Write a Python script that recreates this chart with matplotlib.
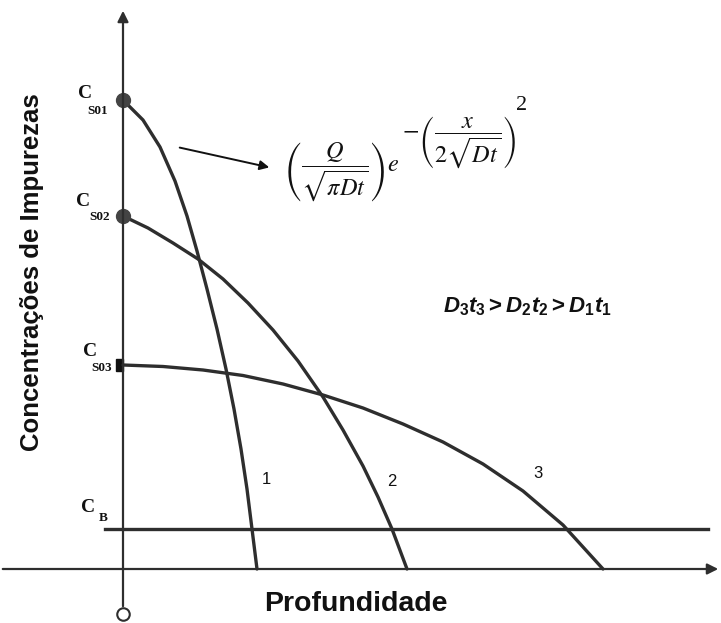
import numpy as np
import matplotlib
matplotlib.use('Agg')
import matplotlib.pyplot as plt
from matplotlib.patches import Rectangle

# perfis de concentracao (profundidade, concentracao)
prof1 = [0, 20, 37, 52, 64, 74, 84, 94, 103, 111, 118, 124, 129, 134]
conc1 = [469, 449, 422, 388, 353, 318, 280, 240, 200, 160, 120, 80, 40, 0]

prof2 = [0, 25, 50, 75, 100, 125, 150, 175, 200, 220, 240, 255, 269, 284]
conc2 = [353, 341, 326, 310, 290, 266, 239, 208, 172, 139, 103, 72, 40, 0]

prof3 = [0, 40, 80, 120, 160, 200, 240, 280, 320, 360, 400, 440, 480]
conc3 = [204, 202.5, 199, 193.5, 185, 174, 161, 145, 127, 105, 78, 44, 0]

conc_B = 40
cb_x = [-18, 585]
rotulos = ['1', '2', '3']

cor = '#2e2e2e'
plt.rcParams['mathtext.fontset'] = 'custom'
plt.rcParams['mathtext.it'] = 'Liberation Sans:italic:bold'
plt.rcParams['mathtext.rm'] = 'Liberation Sans:bold'
plt.rcParams['mathtext.bf'] = 'Liberation Sans:bold'

fig = plt.figure(figsize=(7.21, 6.23), dpi=100)
ax = fig.add_axes([0, 0, 1, 1])
ax.set_xlim(-123, 598)
ax.set_ylim(-54, 569)
ax.axis('off')

# eixos
ax.annotate('', xy=(598, 0), xytext=(-123, 0),
            arrowprops=dict(arrowstyle='-|>', lw=1.6, color=cor, mutation_scale=16))
ax.annotate('', xy=(0, 561), xytext=(0, -40),
            arrowprops=dict(arrowstyle='-|>', lw=1.6, color=cor, mutation_scale=16))
ax.plot([0], [-45], 'o', ms=9, mfc='white', mec=cor, mew=1.5)

# curvas
for p, c in [(prof1, conc1), (prof2, conc2), (prof3, conc3)]:
    ax.plot(p, c, color=cor, lw=2.4, solid_capstyle='round', solid_joinstyle='round')

ax.plot(cb_x, [conc_B, conc_B], color=cor, lw=2.4)

ax.plot([0, 0], [conc1[0], conc2[0]], 'o', ms=10, color='#444444')
ax.add_patch(Rectangle((-7, conc3[0] - 6), 7, 12, color='#111111'))

# rotulos das curvas
for t, (x, y) in zip(rotulos, [(143, 89), (269, 88), (415, 96)]):
    ax.text(x, y, t, fontsize=12, family='Liberation Sans', ha='center', va='center', color='#111111')

# C_S e C_B
serif = dict(family='Liberation Serif', fontweight='bold', color='#111111', ha='center', va='center')
for (cx, cy), (sx, sy), s in [((-38, 476), (-25, 458), 'S01'),
                              ((-40, 368), (-23, 352), 'S02'),
                              ((-33, 218), (-21, 201), 'S03'),
                              ((-35, 62), (-20, 51), 'B')]:
    ax.text(cx, cy, 'C', fontsize=14, **serif)
    ax.text(sx, sy, s, fontsize=9.5, **serif)

# formula
ax.annotate('', xy=(149, 401), xytext=(54, 422),
            arrowprops=dict(arrowstyle='-|>', lw=1.4, color='#111111', mutation_scale=14))
ax.text(160, 397, r'$\left(\dfrac{Q}{\sqrt{\pi Dt}}\right)e$', fontsize=17.5,
        math_fontfamily='stix', ha='left', va='center', color='#111111')
ax.text(279, 427, r'$-\left(\dfrac{x}{2\sqrt{Dt}}\right)$', fontsize=17.5,
        math_fontfamily='stix', ha='left', va='center', color='#111111')
ax.text(399, 463, '2', fontsize=16, family='Liberation Serif', ha='center', va='center',
        color='#111111')

ax.text(404, 262, r'$D_3t_3 > D_2t_2 > D_1t_1$', fontsize=16,
        math_fontfamily='custom', ha='center', va='center', color='#111111')

ax.text(233, -35, 'Profundidade', fontsize=20.5, fontweight='bold', family='Liberation Sans',
        ha='center', va='center', color='#111111')
ax.text(-91, 297, 'Concentrações de Impurezas', fontsize=18.5, fontweight='bold',
        family='Liberation Sans', rotation=90, ha='center', va='center', color='#111111')

fig.savefig('out.png', dpi=100)
